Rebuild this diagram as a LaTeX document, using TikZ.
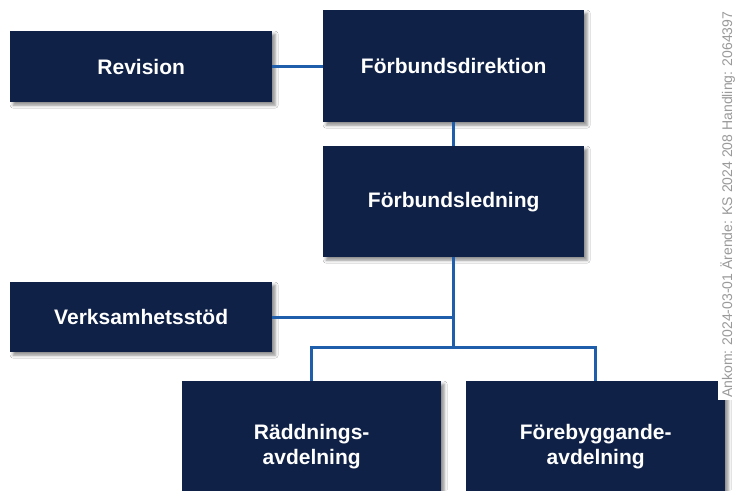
\documentclass[tikz,border=0pt]{standalone}
\usepackage{fontspec}
\setmainfont{Liberation Sans}
\usetikzlibrary{shadows.blur}
\definecolor{navy}{HTML}{0F2147}
\definecolor{linkblue}{HTML}{1F5EAA}
\definecolor{markgray}{HTML}{9A9A9A}
\begin{document}
\begin{tikzpicture}[x=1pt,y=-1pt,
  box/.style={fill=navy,text=white,font=\fontsize{21}{25}\selectfont\bfseries,
    align=center,inner sep=0pt,anchor=north west,
    blur shadow={shadow xshift=3pt,shadow yshift=-3pt,shadow blur radius=3pt,shadow opacity=45}},
  link/.style={draw=linkblue,line width=3pt}]
\useasboundingbox (0,0) rectangle (735,490);
\clip (0,0) rectangle (735,490);
\fill[white] (0,0) rectangle (735,490);

\node[box,minimum width=262pt,minimum height=71pt] (rev) at (10,31) {Revision};
\node[box,minimum width=261pt,minimum height=112pt] (dir) at (323,10) {Förbundsdirektion};
\node[box,minimum width=261pt,minimum height=111pt] (led) at (323,146) {Förbundsledning};
\node[box,minimum width=262pt,minimum height=70pt] (vs) at (10,282) {Verksamhetsstöd};
\node[box,minimum width=259pt,minimum height=130pt] (rad) at (182,381) {Räddnings-\\avdelning};
\node[box,minimum width=259pt,minimum height=130pt] (fore) at (466,381) {Förebyggande-\\avdelning};

\coordinate (j1) at (led.south |- vs.east);
\path (led.south) ++(0,90) coordinate (j2);

\draw[link] (rev.east) -- (rev.east -| dir.west);
\draw[link] (dir.south) -- (led.north);
\draw[link] (led.south) -- (j2);
\draw[link] (vs.east) -- (j1);
\draw[link] (rad.north) |- (j2) -| (fore.north);

\fill[white] (718,0) rectangle (735,400);
\node[rotate=90,anchor=base west,text=markgray,font=\fontsize{14}{14}\selectfont,inner sep=0pt] (mark) at (732,398) {Ankom: 2024-03-01 Ärende: KS 2024 208 Handling: 2064397};
\end{tikzpicture}
\end{document}
